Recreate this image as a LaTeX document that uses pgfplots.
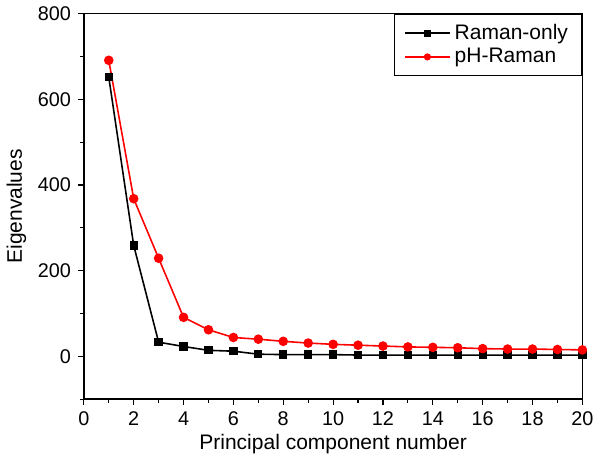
\documentclass[border=0pt]{standalone}
\usepackage{pgfplots}
\pgfplotsset{compat=1.18}
\usepackage{fontspec}
\setmainfont{Liberation Sans}
\begin{document}
\begin{tikzpicture}
\begin{axis}[
  scale only axis,
  width=251.5pt, height=194.5pt,
  xmin=0, xmax=20, ymin=-100, ymax=800,
  xtick={0,2,...,20}, ytick={0,200,...,800},
  minor xtick={1,3,...,19}, minor ytick={-100,100,300,500,700},
  tick align=outside,
  xtick pos=bottom, ytick pos=left,
  major tick length=3pt, minor tick length=1.8pt,
  every tick/.style={black, line width=0.6pt},
  axis line style={line width=0.7pt},
  /pgf/number format/assume math mode=true,
  ticklabel style={font=\fontsize{10}{11}\selectfont},
  label style={font=\fontsize{10.6}{12}\selectfont},
  xlabel={Principal component number},
  ylabel={Eigenvalues},
  xlabel style={yshift=3pt},
  ylabel style={yshift=-1pt},
  legend style={at={(1,1)}, anchor=north east, draw=black, line width=0.5pt,
    font=\fontsize{10.6}{12}\selectfont, row sep=-1pt, inner xsep=5pt, inner ysep=3pt},
  legend image code/.code={\draw[mark repeat=2,mark phase=2,#1,mark size=1.4pt] plot coordinates {(0cm,0cm) (0.4cm,0cm) (0.8cm,0cm)};},
  legend cell align=left,
]
\addplot[black, line width=0.8pt, mark=square*, mark size=1.7pt] coordinates {
(1,652) (2,259) (3,33) (4,23) (5,14) (6,12) (7,5) (8,4) (9,4) (10,4)
(11,3) (12,3) (13,3) (14,3) (15,3) (16,3) (17,3) (18,3) (19,3) (20,3)};
\addlegendentry{Raman-only}
\addplot[red, line width=0.8pt, mark=*, mark size=2pt] coordinates {
(1,691) (2,368) (3,229) (4,91) (5,62) (6,44) (7,40) (8,35) (9,31) (10,28)
(11,26) (12,24) (13,22) (14,21) (15,20) (16,18) (17,17) (18,17) (19,16) (20,15)};
\addlegendentry{pH-Raman}
\end{axis}
\end{tikzpicture}
\end{document}
